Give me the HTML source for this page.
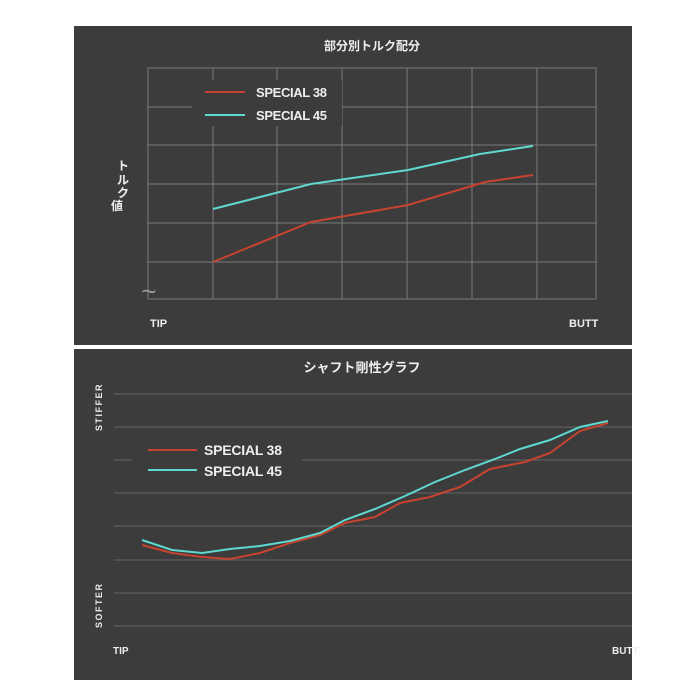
<!DOCTYPE html>
<html><head><meta charset="utf-8"><style>
body{margin:0;background:#fff;width:700px;height:700px;overflow:hidden}
svg{display:block}
text{font-family:"Liberation Sans","Noto Sans CJK JP",sans-serif;font-weight:bold;fill:#eee}
</style></head><body>
<svg width="700" height="700" viewBox="0 0 700 700">
<rect x="74" y="26" width="558" height="319" fill="#3c3c3c"/>
<rect x="74" y="349" width="558" height="331" fill="#3c3c3c"/>
<text x="372" y="50" font-size="12" text-anchor="middle">部分別トルク配分</text>
<g stroke="#7a7a7a" stroke-width="1" fill="none">
<rect x="148" y="68" width="448" height="231"/>
<path d="M148 107H596M148 145H596M148 184H596M148 223H596M148 262H596M213 68V299M277 68V299M342 68V299M407 68V299M472 68V299M537 68V299"/>
</g>
<rect x="192" y="80" width="150" height="46" fill="#3c3c3c"/>
<line x1="205" y1="92" x2="245" y2="92" stroke="#c8432f" stroke-width="2"/>
<line x1="205" y1="115" x2="245" y2="115" stroke="#5fd8d0" stroke-width="2"/>
<text x="256" y="97" font-size="13" textLength="71">SPECIAL 38</text>
<text x="256" y="120" font-size="13" textLength="71">SPECIAL 45</text>
<polyline points="213,262 311,222 408,205 485,182 533,175" fill="none" stroke="#c8432f" stroke-width="2"/>
<polyline points="213,209 311,184 408,170 480,154 533,146" fill="none" stroke="#5fd8d0" stroke-width="2"/>
<text font-size="12" x="117" y="170">ト</text>
<text font-size="12" x="117" y="184">ル</text>
<text font-size="12" x="117" y="197">ク</text>
<text font-size="12" x="111" y="210">値</text>
<text x="149" y="300" font-size="26" text-anchor="middle" style="fill:#999;font-weight:normal">~</text>
<text x="150" y="327" font-size="11">TIP</text>
<text x="569" y="327" font-size="11">BUTT</text>

<text x="362" y="372" font-size="13" text-anchor="middle">シャフト剛性グラフ</text>
<g stroke="#666" stroke-width="1">
<path d="M114 394H632M114 427H632M114 460H632M114 493H632M114 526H632M114 560H632M114 593H632M114 626H632"/>
</g>
<rect x="132" y="435" width="170" height="50" fill="#3c3c3c"/>
<line x1="148" y1="450" x2="197" y2="450" stroke="#c8432f" stroke-width="2"/>
<line x1="148" y1="470" x2="197" y2="470" stroke="#5fd8d0" stroke-width="2"/>
<text x="204" y="455" font-size="14" textLength="78">SPECIAL 38</text>
<text x="204" y="476" font-size="14" textLength="78">SPECIAL 45</text>
<polyline points="142,545 172,553 202,557 230,559 260,553 290,543 320,535 345,523 375,517 400,503 430,497 460,487 490,469 525,462 550,453 580,431 608,423" fill="none" stroke="#c8432f" stroke-width="2"/>
<polyline points="142,540 172,550 202,553 230,549 260,546 290,541 320,533 345,520 375,509 405,496 435,482 465,470 495,459 520,449 550,440 580,427 608,421" fill="none" stroke="#5fd8d0" stroke-width="2"/>
<text transform="translate(102,431) rotate(-90)" font-size="9" letter-spacing="1.5">STIFFER</text>
<text transform="translate(102,628) rotate(-90)" font-size="9" letter-spacing="1.5">SOFTER</text>
<text x="113" y="654" font-size="10">TIP</text>
<text x="612" y="654" font-size="10">BUTT</text>
</svg>
</body></html>
